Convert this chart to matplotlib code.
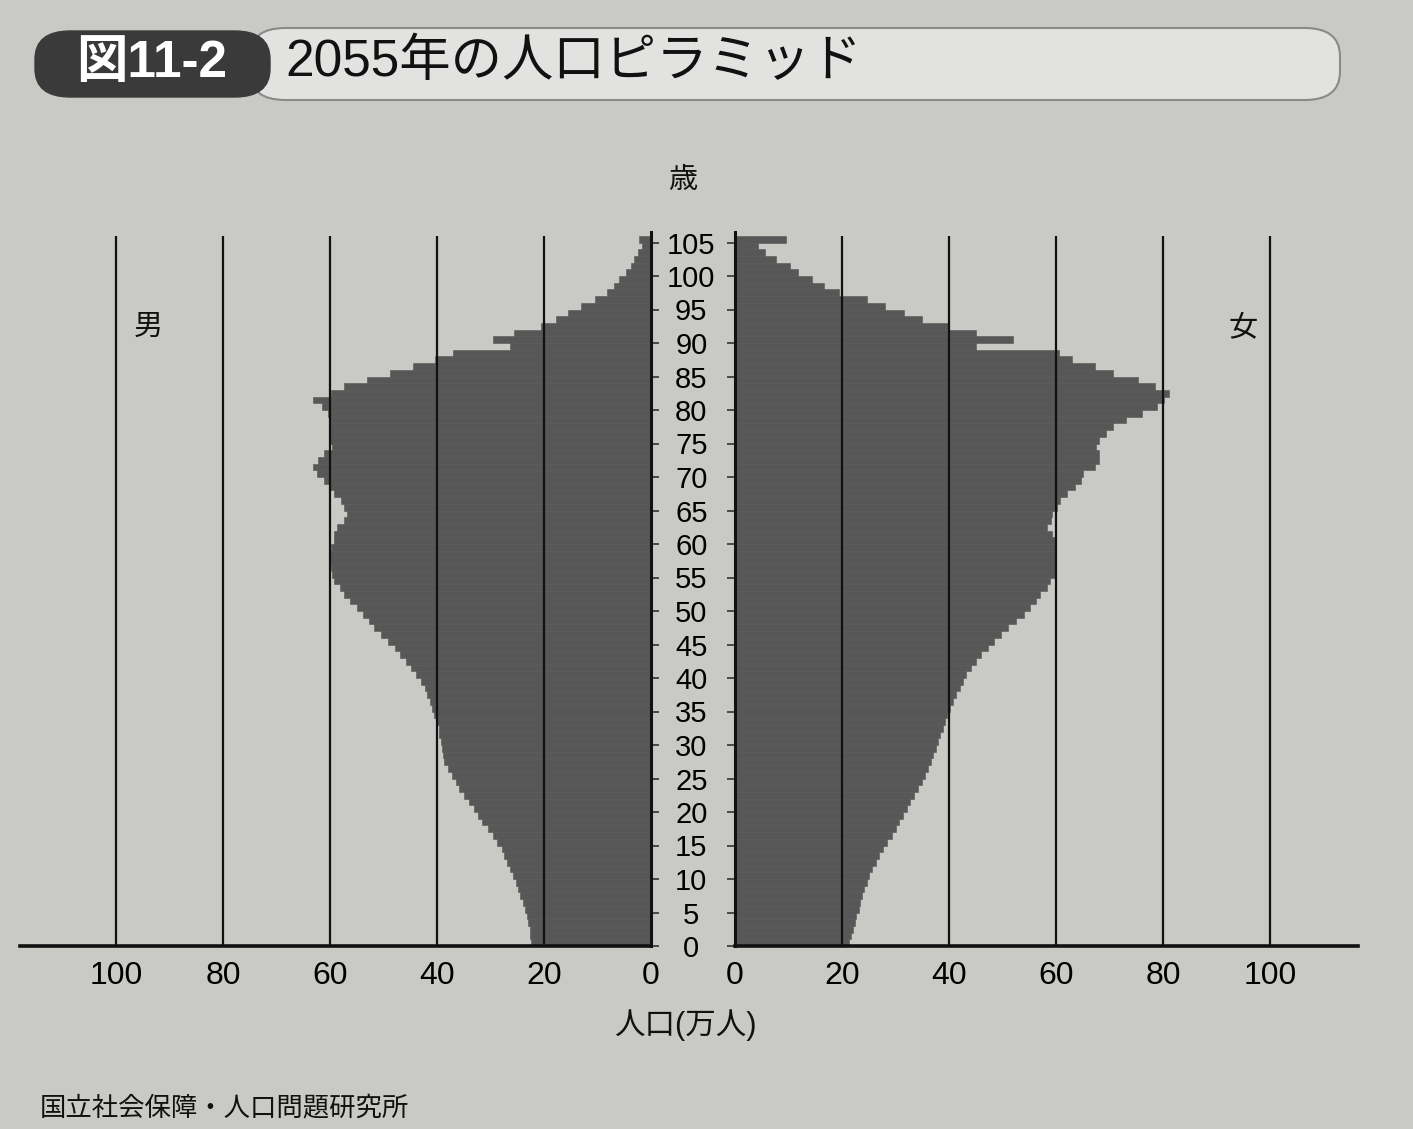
import matplotlib
matplotlib.use("Agg")
import matplotlib.pyplot as plt
from matplotlib.patches import FancyBboxPatch

plt.rcParams['font.family'] = ['Liberation Sans', 'Noto Sans CJK JP', 'DejaVu Sans']

# 年齢 0〜105(105は105歳以上)
ages = list(range(0, 106))

# 男性人口(万人)
male = [
    22.5, 22.6, 22.7, 22.9, 23.1, 23.6, 23.9, 24.4, 24.8, 25.3,
    25.8, 26.3, 26.9, 27.4, 27.9, 28.7, 29.6, 30.5, 31.5, 32.3,
    33.1, 34.0, 34.9, 35.8, 36.5, 37.2, 38.0, 38.7, 38.9, 39.1,
    39.3, 39.6, 39.7, 40.1, 40.5, 40.9, 41.3, 41.8, 42.2, 43.0,
    43.9, 44.9, 45.8, 46.9, 47.9, 49.1, 50.4, 51.7, 52.8, 53.8,
    54.9, 56.3, 57.3, 58.2, 59.2, 59.6, 59.8, 60.0, 60.0, 59.8,
    59.3, 59.3, 58.7, 57.4, 56.8, 57.4, 58.0, 59.3, 60.0, 61.2,
    62.5, 63.1, 62.2, 61.2, 59.6, 60.0, 60.0, 60.0, 60.0, 60.3,
    61.5, 63.1, 59.9, 57.4, 53.0, 48.8, 44.4, 40.3, 37.0, 26.3,
    29.5, 25.7, 20.6, 17.7, 15.5, 13.0, 10.4, 8.2, 6.9, 6.0,
    4.7, 3.7, 3.1, 2.5, 1.6, 2.2,
]

# 女性人口(万人)
female = [
    21.3, 21.7, 22.1, 22.4, 22.7, 23.1, 23.3, 23.7, 24.1, 24.6,
    25.1, 25.7, 26.3, 27.0, 27.7, 28.5, 29.3, 30.0, 30.7, 31.4,
    32.1, 32.8, 33.5, 34.2, 34.9, 35.5, 36.1, 36.6, 37.1, 37.5,
    38.0, 38.3, 38.8, 39.2, 39.7, 40.2, 40.8, 41.4, 42.0, 42.6,
    43.2, 44.2, 45.0, 46.0, 47.3, 48.5, 49.8, 51.0, 52.5, 54.0,
    55.2, 56.2, 57.1, 58.3, 58.9, 59.8, 60.0, 60.0, 60.0, 60.0,
    60.0, 59.3, 58.3, 59.0, 59.3, 60.2, 60.8, 62.0, 63.5, 64.7,
    65.0, 67.2, 68.0, 68.0, 67.5, 68.1, 69.3, 70.7, 73.0, 76.0,
    78.8, 80.2, 81.2, 78.5, 75.3, 70.7, 67.2, 63.0, 60.5, 45.0,
    52.0, 45.0, 40.0, 35.0, 31.5, 28.0, 24.6, 19.4, 16.7, 14.3,
    11.7, 10.2, 7.7, 5.6, 4.3, 9.6,
]

age_ticks = list(range(0, 106, 5))
pop_ticks = [0, 20, 40, 60, 80, 100]

W, H = 1413, 1129
bg = '#c9c9c5'
bar_color = '#575757'

fig = plt.figure(figsize=(W / 100, H / 100), dpi=100, facecolor=bg)

def px(x, y):
    return x / W, 1 - y / H

# 軸の配置(ピクセル)
y_bot, y_top = 946, 232
ax_m = fig.add_axes([20 / W, 1 - y_bot / H, (651 - 20) / W, (y_bot - y_top) / H])
ax_f = fig.add_axes([735 / W, 1 - y_bot / H, (1358 - 735) / W, (y_bot - y_top) / H])

scale = 5.35
ymax = (y_bot - y_top) / 6.7

for ax, vals in [(ax_m, male), (ax_f, female)]:
    ax.set_facecolor(bg)
    ax.barh(ages, vals, height=1.0, align='edge', color=bar_color,
            edgecolor=bar_color, linewidth=0.4, zorder=2)
    ax.vlines([20, 40, 60, 80, 100], 0, 106, color='#111111', linewidth=1.6, zorder=3)
    ax.set_ylim(0, ymax)
    ax.set_xticks(pop_ticks)
    ax.set_xticklabels([str(t) for t in pop_ticks], fontsize=23)
    ax.tick_params(axis='x', length=0, pad=11)
    ax.set_yticks(age_ticks)
    for s in ['top', 'left', 'right']:
        ax.spines[s].set_visible(False)
    ax.spines['bottom'].set_linewidth(2.6)
    ax.spines['bottom'].set_color('#111111')

# 男性(左)
ax_m.set_xlim((651 - 20) / scale, 0)
ax_m.spines['right'].set_visible(True)
ax_m.spines['right'].set_linewidth(2.2)
ax_m.spines['right'].set_color('#111111')
ax_m.yaxis.tick_right()
ax_m.tick_params(axis='y', direction='out', length=6, width=1.2, color='#333333',
                 labelsize=21, pad=23)
ax_m.set_yticklabels([str(a) for a in age_ticks])
for lab in ax_m.get_yticklabels():
    lab.set_horizontalalignment('center')

# 女性(右)
ax_f.set_xlim(0, (1358 - 735) / scale)
ax_f.spines['left'].set_visible(True)
ax_f.spines['left'].set_linewidth(2.2)
ax_f.spines['left'].set_color('#111111')
ax_f.tick_params(axis='y', direction='out', length=6, width=1.2, color='#333333',
                 labelleft=False)

# 見出し
banner = FancyBboxPatch(px(250, 100), 1090 / W, 72 / H,
                        boxstyle="round,pad=0,rounding_size=0.025",
                        transform=fig.transFigure, facecolor='#e2e2e0',
                        edgecolor='#8a8a8a', linewidth=1.5)
fig.add_artist(banner)
tag = FancyBboxPatch(px(35, 97), 235 / W, 66 / H,
                     boxstyle="round,pad=0,rounding_size=0.025",
                     transform=fig.transFigure, facecolor='#3a3a3a',
                     edgecolor='#3a3a3a', linewidth=1)
fig.add_artist(tag)
fig.text(*px(152, 64), '図11-2', fontsize=37, fontweight='bold', color='white',
         ha='center', va='center')
fig.text(*px(285, 62), '2055年の人口ピラミッド', fontsize=37, color='#111111',
         ha='left', va='center')

fig.text(*px(683, 180), '歳', fontsize=21, ha='center', va='center', color='#111111')
fig.text(*px(148, 327), '男', fontsize=21, ha='center', va='center', color='#111111')
fig.text(*px(1243, 327), '女', fontsize=21, ha='center', va='center', color='#111111')
fig.text(*px(686, 1025), '人口(万人)', fontsize=22, ha='center', va='center', color='#111111')
fig.text(*px(40, 1108), '国立社会保障・人口問題研究所', fontsize=19, ha='left', va='center',
         color='#111111')

fig.savefig('out.png', dpi=100, facecolor=bg)
